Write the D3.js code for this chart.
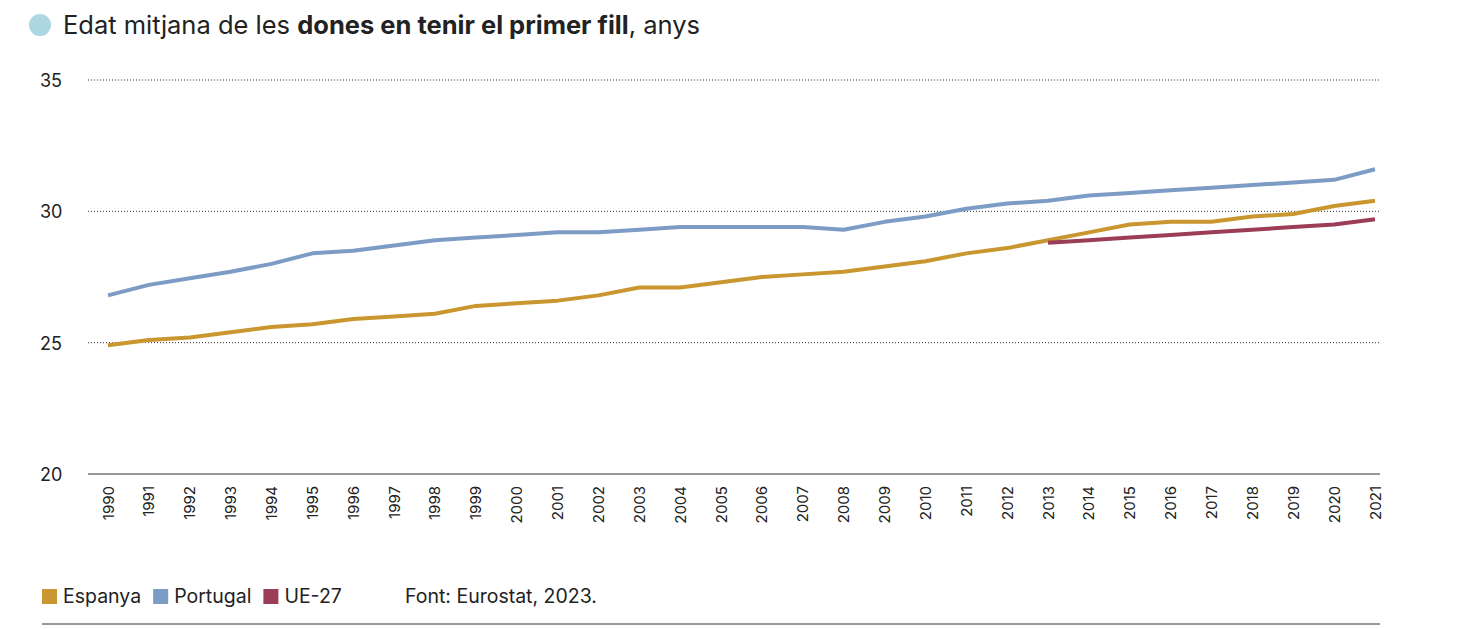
<!DOCTYPE html>
<html><head><meta charset="utf-8">
<script src="https://cdn.jsdelivr.net/npm/d3@7"></script>
<style>body{margin:0;background:#fff;font-family:Inter,"Noto Sans",sans-serif;}</style>
</head><body><div id="chart"></div>
<script>
const years = d3.range(1990, 2022);
const espanya = [24.9,25.1,25.2,25.4,25.6,25.7,25.9,26.0,26.1,26.4,26.5,26.6,26.8,27.1,27.1,27.3,27.5,27.6,27.7,27.9,28.1,28.4,28.6,28.9,29.2,29.5,29.6,29.6,29.8,29.9,30.2,30.4];
const portugal = [26.8,27.2,27.45,27.7,28.0,28.4,28.5,28.7,28.9,29.0,29.1,29.2,29.2,29.3,29.4,29.4,29.4,29.4,29.3,29.6,29.8,30.1,30.3,30.4,30.6,30.7,30.8,30.9,31.0,31.1,31.2,31.6];
const ueYears = d3.range(2013, 2022);
const ue = [28.8,28.9,29.0,29.1,29.2,29.3,29.4,29.5,29.7];
const yTicks = [20,25,30,35];
const series = [
  {name:"Espanya", color:"#c9962f", x:years, y:espanya},
  {name:"Portugal", color:"#7c9cc5", x:years, y:portugal},
  {name:"UE-27", color:"#9c3d57", x:ueYears, y:ue}
];

const width = 1461, height = 629;
const svg = d3.select("#chart").append("svg").attr("width", width).attr("height", height);
const x = d3.scaleLinear().domain([1990, 2021]).range([108, 1375]);
const y = d3.scaleLinear().domain([20, 35]).range([474, 80]);

// title
svg.append("circle").attr("cx", 40).attr("cy", 25).attr("r", 11).attr("fill", "#acd6e0");
const t = svg.append("text").attr("x", 63).attr("y", 34).attr("font-size", 25.5).attr("fill", "#222");
t.append("tspan").text("Edat mitjana de les ");
t.append("tspan").attr("font-weight", "bold").text("dones en tenir el primer fill");
t.append("tspan").text(", anys");

// grid
yTicks.forEach(v => {
  svg.append("line").attr("x1", 88).attr("x2", 1380).attr("y1", y(v)).attr("y2", y(v))
    .attr("stroke", "#333").attr("stroke-width", 1).attr("stroke-dasharray", v === 20 ? null : "1,2");
  svg.append("text").attr("x", 40).attr("y", y(v) + 7).attr("font-size", 18).attr("fill", "#222").text(v);
});

// x labels
years.forEach(yr => {
  svg.append("text").attr("transform", `translate(${x(yr) + 5.5},${486}) rotate(-90)`)
    .attr("text-anchor", "end").attr("font-size", 15).attr("fill", "#222").text(yr);
});

const line = d3.line().x(d => x(d[0])).y(d => y(d[1]));
series.forEach(s => {
  svg.append("path").datum(s.x.map((v, i) => [v, s.y[i]])).attr("d", line)
    .attr("fill", "none").attr("stroke", s.color).attr("stroke-width", 4).attr("stroke-linejoin", "round");
});

// legend
let lx = 42;
series.forEach(s => {
  svg.append("rect").attr("x", lx).attr("y", 589).attr("width", 15).attr("height", 15).attr("fill", s.color);
  const tx = svg.append("text").attr("x", lx + 21).attr("y", 603).attr("font-size", 19.5).attr("fill", "#222").text(s.name);
  lx += 21 + tx.node().getComputedTextLength() + 12;
});
svg.append("text").attr("x", 405).attr("y", 603).attr("font-size", 19.5).attr("fill", "#222").text("Font: Eurostat, 2023.");
svg.append("line").attr("x1", 42).attr("x2", 1380).attr("y1", 624).attr("y2", 624).attr("stroke", "#333");
</script></body></html>
